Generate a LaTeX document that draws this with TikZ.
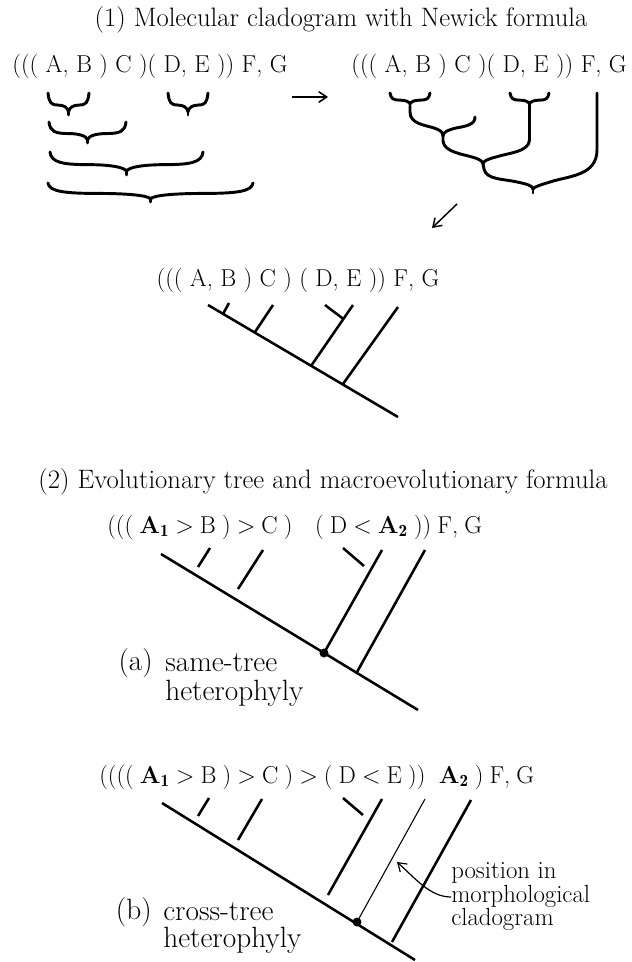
\documentclass[tikz,border=0pt]{standalone}
\usepackage{fontspec}
\usetikzlibrary{arrows.meta}

\tikzset{
  caption/.style={inner sep=0pt,font=\fontsize{20}{24}\selectfont},
  newick/.style={inner sep=0pt,font=\fontsize{18.3}{21}\selectfont},
  macro formula/.style={newick,anchor=west,font={\fontsize{18.3}{21}\selectfont\spaceskip 0.25em\relax}},
  tag/.style={inner sep=0pt,anchor=west,font=\fontsize{22}{25}\selectfont},
  note/.style={inner sep=0pt,align=left,font=\fontsize{18.6}{15.4}\selectfont},
  brace line/.style={line width=2.2pt,line cap=round},
  branch/.style={line width=1.9pt},
  thin branch/.style={line width=0.8pt},
  step arrow/.style={line width=1.1pt,-{Straight Barb[length=6pt,width=8pt]}},
}

% curly brace pointing down: x left, x right, y top, y tip
\newcommand\cbrace[4]{%
  \pgfmathsetmacro\bxm{(#1+#2)/2}
  \pgfmathsetmacro\bL{#2-#1}
  \pgfmathsetmacro\bd{#4-#3}
  \draw[brace line] (#1,#3)
    .. controls ({#1+1},{#3+0.45*\bd}) and ({#1+0.08*\bL},{#3+0.55*\bd}) .. ({#1+0.25*\bL},{#3+0.55*\bd})
    .. controls ({\bxm-0.12*\bL},{#3+0.55*\bd}) and ({\bxm-1},{#3+0.65*\bd}) .. (\bxm,{#3+0.85*\bd})
    .. controls ({\bxm+1},{#3+0.65*\bd}) and ({\bxm+0.12*\bL},{#3+0.55*\bd}) .. ({#2-0.25*\bL},{#3+0.55*\bd})
    .. controls ({#2-0.08*\bL},{#3+0.55*\bd}) and ({#2-1},{#3+0.45*\bd}) .. (#2,#3);
  \draw[brace line] (\bxm,{#3+0.85*\bd}) -- (\bxm,#4);
}

\begin{document}
\begin{tikzpicture}[x=0.75pt,y=-0.75pt]
\useasboundingbox (0,0) rectangle (631,962);

%(1) title and formulas
\node[caption] (title1) at (341,20) {(1) Molecular cladogram with Newick formula};
\node[newick] (nwL) at (150,66) {((( A, B ) C )( D, E )) F, G};
\node[newick] (nwR) at (489,66) {((( A, B ) C )( D, E )) F, G};
\node[newick] (nwM) at (298,280) {((( A, B ) C ) ( D, E )) F, G};

%arrows between the steps
\coordinate (s1) at (292,97);
\coordinate (s2) at (328,97);
\draw[step arrow] (s1) -- (s2);
\coordinate (s3) at (457,204);
\coordinate (s4) at (432,228);
\draw[step arrow] (s3) -- (s4);

%nested braces
\cbrace{48}{89}{93}{115}
\cbrace{168}{208}{93}{115}
\cbrace{49}{126}{122}{143}
\cbrace{50}{203}{152}{175}
\cbrace{48}{253}{183}{202}

%curly cladogram
\cbrace{390}{430}{93}{106}
\cbrace{510}{549}{93}{106}
\coordinate (nABC) at (443,136);
\coordinate (nABCDE) at (483,164);
\coordinate (nRoot) at (533,189);
\draw[brace line] (410,106) -- (410,112) .. controls (410,124) and (425,125) .. (434,128) .. controls (440,130) and (443,132) .. (nABC);
\draw[brace line] (475,117) .. controls (475,124) and (468,126) .. (456,128) .. controls (448,130) and (443,132) .. (nABC);
\draw[brace line] (nABC) -- (443,141) .. controls (444,152) and (462,154) .. (472,157) .. controls (479,159) and (483,161) .. (nABCDE);
\draw[brace line] (529.5,106) -- (529.5,140) .. controls (529,152) and (508,153) .. (496,157) .. controls (488,159) and (483,161) .. (nABCDE);
\draw[brace line] (nABCDE) -- (484,169) .. controls (486,180) and (505,179) .. (517,182) .. controls (527,184) and (533,186) .. (nRoot);
\draw[brace line] (597,93) -- (597,150) .. controls (597,176) and (568,176) .. (550,182) .. controls (540,185) and (534,187) .. (nRoot);
\draw[brace line] (nRoot) -- (533,193);

%straight cladogram
\coordinate (m0) at (208,305);
\coordinate (mA) at (223,314);
\coordinate (mC) at (255,332);
\coordinate (mDE) at (311,366);
\coordinate (mF) at (343,384);
\coordinate (mG) at (398,417);
\draw[branch] (m0) -- (mG);
\draw[branch] (mA) -- (229,303);
\draw[branch] (mC) -- (273,305);
\draw[branch] (mDE) -- (353,305);
\draw[branch] (325,305) -- (343.4,319);
\draw[branch] (mF) -- (398,307);

%(2) title
\node[caption] (title2) at (323,482) {(2) Evolutionary tree and macroevolutionary formula};

%(a) same-tree
\node[macro formula] (nwA) at (107,527) {((( \textbf{A$_{\mathbf{1}}$} > B ) > C )\hspace{17pt}( D < \textbf{A$_{\mathbf{2}}$} )) F, G};
\coordinate (a0) at (161,554);
\coordinate (aA) at (324,653);
\coordinate (aF) at (357,672);
\coordinate (aG) at (418,710);
\draw[branch] (a0) -- (aG);
\draw[branch] (198,567) -- (210,548);
\draw[branch] (238,589) -- (263,550);
\draw[branch] (343,548) -- (364,566);
\draw[branch] (aA) -- (382,550);
\draw[branch] (aF) -- (425,550);
\fill (aA) circle (4.5);
\node[tag,anchor=east] (tagA) at (153,663) {(a)};
\node[tag] (tagA1) at (165,663) {same-tree};
\node[tag] (tagA2) at (165,693) {heterophyly};

%(b) cross-tree
\node[macro formula] (nwB) at (99,777) {(((( \textbf{A$_{\mathbf{1}}$} > B ) > C ) > ( D < E ))\hspace{10pt}\textbf{A$_{\mathbf{2}}$} ) F, G};
\coordinate (b0) at (162,803);
\coordinate (bA) at (357,922);
\coordinate (bF) at (392,942);
\coordinate (bG) at (415,960);
\draw[branch] (b0) -- (bG);
\draw[branch] (198,816) -- (209,798);
\draw[branch] (238,840) -- (262,799);
\draw[branch] (343,798) -- (363,815);
\draw[branch] (328,895) -- (382,799);
\draw[thin branch] (bA) -- (425,799);
\draw[branch] (bF) -- (471,800);
\fill (bA) circle (4.5);
\node[tag,anchor=east] (tagB) at (152,912) {(b)};
\node[tag] (tagB1) at (163,912) {cross-tree};
\node[tag] (tagB2) at (163,940) {heterophyly};

%note on the morphological position
\node[note,anchor=west] (pos) at (451,897) {position in\\morphological\\cladogram};
\coordinate (posTip) at (397,862);
\draw[line width=0.9pt,-{Straight Barb[length=6pt,width=8pt]}] (pos.west |- 0,897) .. controls (430,897) and (415,878) .. (posTip);
\end{tikzpicture}
\end{document}
